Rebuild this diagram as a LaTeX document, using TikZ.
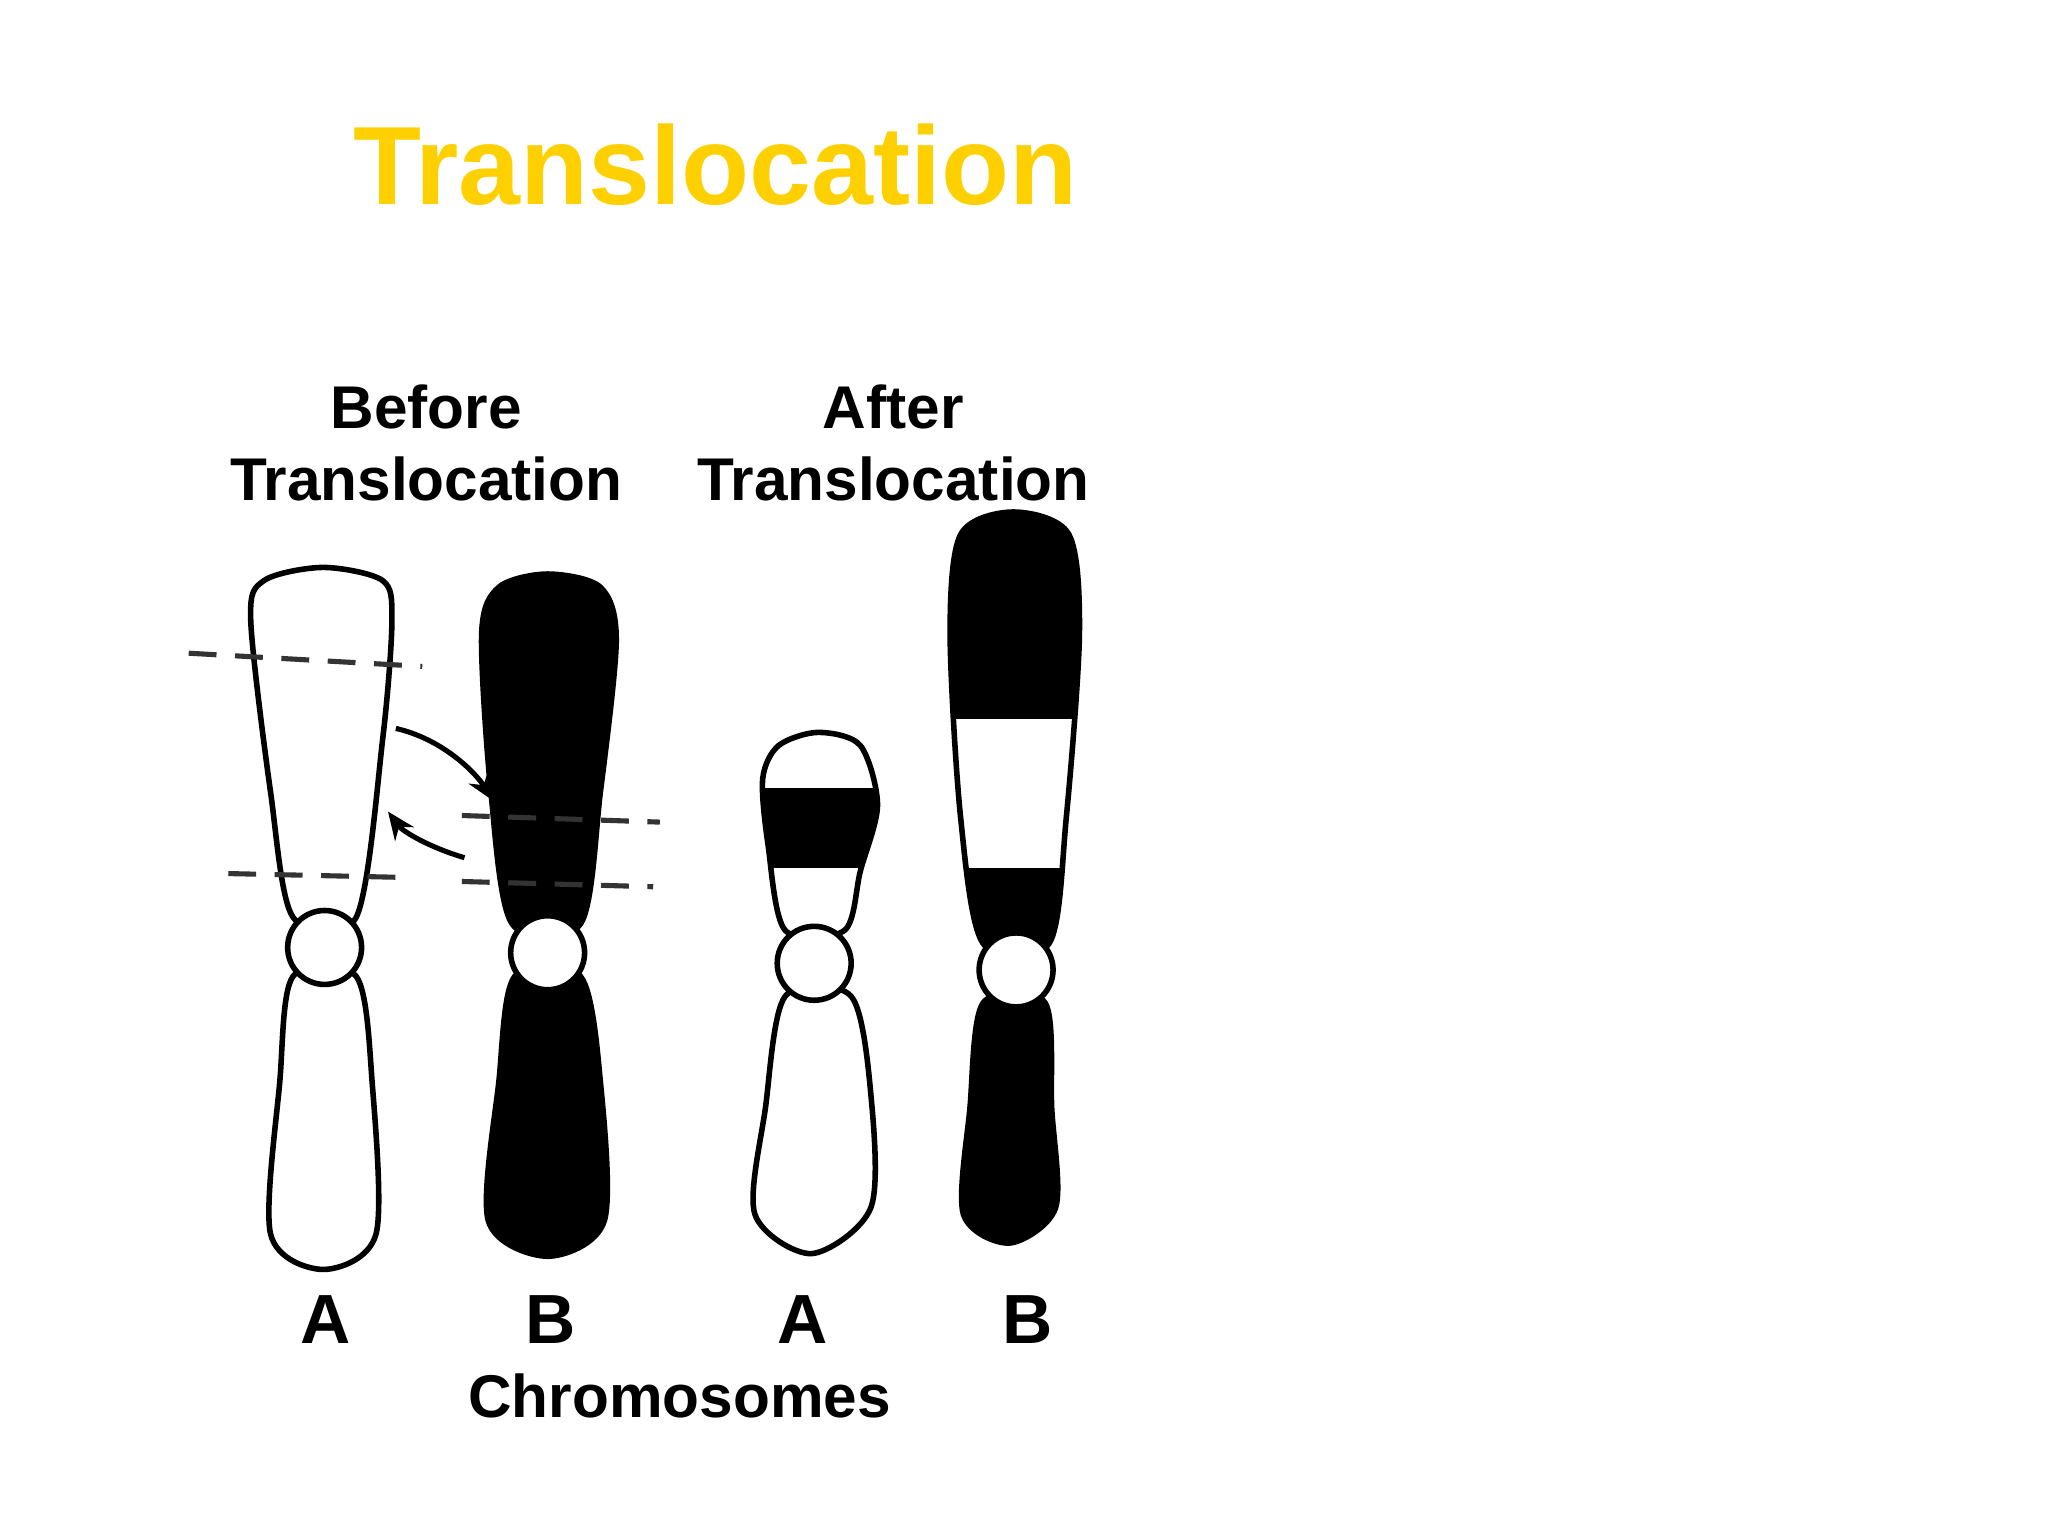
\documentclass[tikz,border=0pt]{standalone}
\usepackage{fontspec}
\setmainfont{Liberation Sans}
\usetikzlibrary{arrows.meta}
\definecolor{ttl}{HTML}{FFD000}
\begin{document}
\begin{tikzpicture}[x=0.01cm,y=-0.01cm,
  chr/.style={draw=black,line width=1.2pt},
  cen/.style={draw=black,fill=white,line width=1.2pt,inner sep=0pt},
  cut/.style={draw=black!80,line width=1.1pt,dash pattern=on 6pt off 4pt},
  lbl/.style={font=\bfseries\fontsize{13}{15.5}\selectfont,align=center},
  arr/.style={line width=1.1pt,-{Stealth[length=6pt,width=5pt]}}]
\useasboundingbox (0,0) rectangle (1552,1164);
\node[text=ttl,font=\bfseries\fontsize{24}{28}\selectfont] (title) at (542,125) {Translocation};
\node[lbl] (bef) at (323,336) {Before\\Translocation};
\node[lbl] (aft) at (677,336) {After\\Translocation};
% A before
\draw[chr,fill=white] plot[smooth cycle] coordinates {(222,695)(205,600)(190,470)(200,440)(245,430)(290,440)(297,470)(290,560)(270,695)};
\draw[chr,fill=white] plot[smooth cycle] coordinates {(222,740)(212,820)(205,935)(245,962)(285,935)(282,820)(270,740)};
\node[cen,circle,minimum size=0.56cm] (cA1) at (246,718) {};
% B before
\draw[chr,fill=black] plot[smooth cycle] coordinates {(388,700)(372,600)(365,480)(378,445)(415,435)(455,445)(467,485)(455,600)(440,700)};
\draw[chr,fill=black] plot[smooth cycle] coordinates {(390,740)(378,820)(370,925)(415,952)(458,925)(455,820)(440,740)};
\node[cen,circle,minimum size=0.56cm] (cB1) at (415,722) {};
% A after
\begin{scope}
\clip plot[smooth cycle] coordinates {(595,705)(582,640)(578,590)(590,565)(620,555)(652,565)(665,610)(652,660)(640,705)};
\fill[black] (560,597) rectangle (680,658);
\end{scope}
\draw[chr] plot[smooth cycle] coordinates {(595,705)(582,640)(578,590)(590,565)(620,555)(652,565)(665,610)(652,660)(640,705)};
\draw[chr,fill=white] plot[smooth cycle] coordinates {(595,755)(580,840)(572,920)(615,950)(660,915)(660,830)(645,755)};
\node[cen,circle,minimum size=0.56cm] (cA2) at (617,730) {};
% B after
\begin{scope}
\clip plot[smooth cycle] coordinates {(745,715)(728,620)(720,480)(728,405)(768,388)(810,405)(818,480)(808,620)(795,715)};
\fill[black] (700,380) rectangle (840,545);
\fill[black] (700,658) rectangle (840,720);
\end{scope}
\draw[chr] plot[smooth cycle] coordinates {(745,715)(728,620)(720,480)(728,405)(768,388)(810,405)(818,480)(808,620)(795,715)};
\draw[chr,fill=black] plot[smooth cycle] coordinates {(745,760)(735,840)(730,920)(765,942)(800,915)(797,840)(792,760)};
\node[cen,circle,minimum size=0.56cm] (cB2) at (770,735) {};
% cut lines
\coordinate (d1a) at (143,495); \coordinate (d1b) at (320,505);
\coordinate (d2a) at (173,662); \coordinate (d2b) at (310,665);
\coordinate (d3a) at (350,618); \coordinate (d3b) at (500,623);
\coordinate (d4a) at (350,668); \coordinate (d4b) at (495,672);
\draw[cut] (d1a) -- (d1b);
\draw[cut] (d2a) -- (d2b);
\draw[cut] (d3a) -- (d3b);
\draw[cut] (d4a) -- (d4b);
% arrows
\coordinate (a1s) at (300,552); \coordinate (a1e) at (374,607);
\coordinate (a2s) at (352,650); \coordinate (a2e) at (294,615);
\draw[arr] (a1s) .. controls (335,560) and (360,585) .. (a1e);
\draw[arr] (a2s) .. controls (325,642) and (305,630) .. (a2e);
% labels
\node[lbl,font=\bfseries\fontsize{15}{18}\selectfont] (lA1) at (247,1000) {A};
\node[lbl,font=\bfseries\fontsize{15}{18}\selectfont] (lB1) at (417,1000) {B};
\node[lbl,font=\bfseries\fontsize{15}{18}\selectfont] (lA2) at (608,1000) {A};
\node[lbl,font=\bfseries\fontsize{15}{18}\selectfont] (lB2) at (779,1000) {B};
\node[lbl] (chrom) at (515,1058) {Chromosomes};
\end{tikzpicture}
\end{document}
